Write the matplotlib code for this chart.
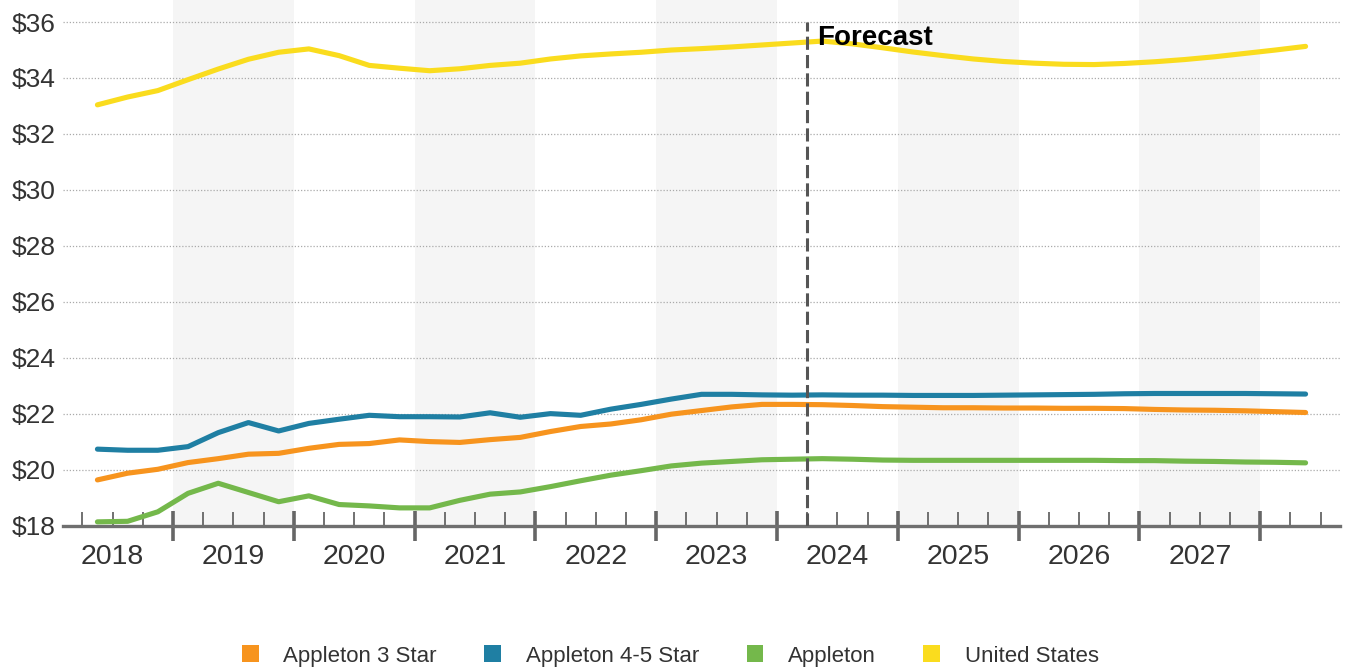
import numpy as np
import pandas as pd
import matplotlib.pyplot as plt
from matplotlib.patches import Patch

plt.rcParams['font.family'] = ['Liberation Sans', 'DejaVu Sans']

# Quarterly ADR, 2018Q2 .. 2028Q2
quarters = pd.period_range('2018Q2', '2028Q2', freq='Q')
forecast_start = pd.Period('2024Q2', freq='Q')
shaded_years = [2019, 2021, 2023, 2025, 2027]
year_labels = list(range(2018, 2028))

star3 = [19.63, 19.87, 20.01, 20.25, 20.39, 20.55, 20.58, 20.76, 20.90, 20.93,
         21.06, 21.00, 20.97, 21.07, 21.15, 21.36, 21.54, 21.63, 21.78, 21.98,
         22.11, 22.24, 22.33, 22.33, 22.32, 22.29, 22.25, 22.23, 22.21, 22.21,
         22.20, 22.20, 22.19, 22.19, 22.18, 22.15, 22.13, 22.12, 22.10, 22.07,
         22.04]
star45 = [20.73, 20.69, 20.69, 20.82, 21.32, 21.68, 21.38, 21.65, 21.80, 21.94,
          21.89, 21.89, 21.88, 22.03, 21.87, 22.00, 21.94, 22.16, 22.33, 22.52,
          22.69, 22.69, 22.67, 22.66, 22.67, 22.66, 22.66, 22.65, 22.65, 22.65,
          22.66, 22.67, 22.68, 22.69, 22.71, 22.72, 22.72, 22.72, 22.72, 22.71,
          22.70]
appleton = [18.13, 18.15, 18.49, 19.15, 19.51, 19.18, 18.85, 19.06, 18.75, 18.70,
            18.63, 18.63, 18.90, 19.12, 19.20, 19.39, 19.60, 19.80, 19.96, 20.13,
            20.23, 20.29, 20.35, 20.37, 20.39, 20.37, 20.34, 20.33, 20.33, 20.33,
            20.33, 20.33, 20.33, 20.33, 20.32, 20.32, 20.30, 20.29, 20.27, 20.26,
            20.24]
us = [33.04, 33.32, 33.55, 33.94, 34.32, 34.67, 34.92, 35.04, 34.80, 34.45,
      34.35, 34.26, 34.33, 34.45, 34.53, 34.68, 34.79, 34.86, 34.92, 35.00,
      35.05, 35.11, 35.18, 35.25, 35.32, 35.22, 35.08, 34.93, 34.80, 34.68,
      34.59, 34.53, 34.49, 34.48, 34.52, 34.58, 34.66, 34.76, 34.88, 35.00,
      35.13]

series = [('Appleton 3 Star', star3, '#F7941E'),
          ('Appleton 4-5 Star', star45, '#1F7FA3'),
          ('Appleton', appleton, '#74B84B'),
          ('United States', us, '#FADC1E')]

# points sit in the middle of each quarter
x = quarters.year + (quarters.quarter - 0.5) / 4
x_fc = forecast_start.year + (forecast_start.quarter - 1) / 4

fig = plt.figure(figsize=(13.46, 6.68), dpi=100)
ax = fig.add_axes([63 / 1346, 142.5 / 668, 1277 / 1346, 525.5 / 668])

for yr in shaded_years:
    ax.axvspan(yr, yr + 1, color='#f5f5f5', lw=0, zorder=0)

for name, vals, col in series:
    ax.plot(x, vals, color=col, lw=3.7, solid_capstyle='round',
            solid_joinstyle='round', zorder=3, clip_on=False)

ax.plot([x_fc, x_fc], [18, 36], color='#555555', lw=2.2,
        linestyle=(0, (4.3, 1.7)), zorder=4)
ax.annotate('Forecast', xy=(x_fc, 36), xytext=(10, -16),
            textcoords='offset pixels', ha='left', va='center',
            fontsize=20, fontweight='bold', color='black', zorder=5)

ax.set_xlim(2018.09, 2028.66)
ax.set_ylim(18, 36 + 22 / 27.9)

yt = np.arange(18, 37, 2)
ax.set_yticks(yt)
ax.set_yticklabels(['$%d' % v for v in yt], fontsize=19, color='#333333')
ax.tick_params(axis='y', length=0, pad=5)
ax.yaxis.grid(True, color='#aaaaaa', lw=0.9, linestyle=(0, (1, 1.5)))
ax.set_axisbelow(True)

ax.set_xticks(np.arange(2019, 2029))
ax.set_xticks(np.arange(2018.25, 2028.6, 0.25), minor=True)
ax.tick_params(axis='x', which='major', direction='inout', length=22,
               width=2.6, color='#666666', labelbottom=False)
ax.tick_params(axis='x', which='minor', direction='in', length=10,
               width=1.3, color='#666666')

for yr in year_labels:
    ax.annotate(str(yr), xy=(yr + 0.5, 18), xytext=(0, -31),
                textcoords='offset pixels', ha='center', va='center',
                fontsize=20.5, color='#333333', annotation_clip=False)

for s in ['top', 'right', 'left']:
    ax.spines[s].set_visible(False)
ax.spines['bottom'].set_color('#6f6f6f')
ax.spines['bottom'].set_linewidth(2.4)

handles = [Patch(facecolor=c, edgecolor='none', label=n) for n, v, c in series]
fig.legend(handles=handles, loc='center', bbox_to_anchor=(0.498, 0.018),
           ncol=4, frameon=False, fontsize=16, handlelength=0.75,
           handleheight=0.8, handletextpad=1.1, columnspacing=2.15,
           labelcolor='#333333')

fig.savefig('out.png', dpi=100)
